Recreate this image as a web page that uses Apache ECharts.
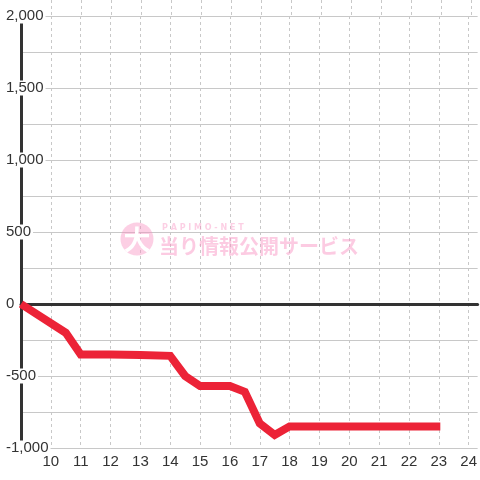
<!DOCTYPE html>
<html>
<head>
<meta charset="utf-8">
<script src="https://cdn.jsdelivr.net/npm/echarts@6/dist/echarts.min.js"></script>
<style>html,body{margin:0;padding:0;background:#fff}#c{width:480px;height:480px}</style>
</head>
<body>
<div id="c"></div>
<script>
const hours = [9, 10.5, 11, 12, 13, 14, 14.5, 15, 16, 16.5, 17, 17.5, 18, 19, 20, 21, 22, 23.05];
const values = [0, -200, -350, -350, -355, -360, -500, -570, -570, -610, -830, -910, -850, -850, -850, -850, -850, -850];
const yTickLabels = [-1000, -500, 0, 500, 1000, 1500, 2000];
const xTickLabels = [10, 11, 12, 13, 14, 15, 16, 17, 18, 19, 20, 21, 22, 23, 24];
const watermarkSmall = 'PAPIMO-NET';
const watermarkBig = '当り情報公開サービス';

const chart = echarts.init(document.getElementById('c'));
const fontFam = '"Liberation Sans", Arial, sans-serif';
const xMin = 9, xMax = 24.3;
chart.setOption({
  animation: false,
  backgroundColor: '#fff',
  grid: [
    {left: 21, right: 0, top: 16, bottom: 32},
    {left: 21, right: 0, top: 0, height: 16}
  ],
  xAxis: [
    {
      type: 'value', gridIndex: 0, min: xMin, max: xMax, interval: 1, position: 'bottom',
      axisLine: {show: false, onZero: false}, axisTick: {show: false},
      axisLabel: {
        color: '#333', fontSize: 15, fontFamily: fontFam, margin: 6,
        showMinLabel: false, showMaxLabel: false,
        formatter: v => xTickLabels.indexOf(v) >= 0 ? String(v) : ''
      },
      splitLine: {show: true, showMinLine: false, showMaxLine: false, lineStyle: {color: '#c8c8c8', type: [3, 3], width: 1}}
    },
    {
      type: 'value', gridIndex: 0, min: xMin, max: xMax, position: 'top',
      axisLine: {show: true, onZero: true, lineStyle: {color: '#333', width: 3}},
      axisTick: {show: false}, axisLabel: {show: false}, splitLine: {show: false}
    },
    {
      type: 'value', gridIndex: 1, min: xMin, max: xMax, interval: 1,
      axisLine: {show: false}, axisTick: {show: false}, axisLabel: {show: false},
      splitLine: {show: true, showMinLine: false, showMaxLine: false, lineStyle: {color: '#c8c8c8', type: [3, 3], width: 1}}
    }
  ],
  yAxis: [
    {
      type: 'value', gridIndex: 0, min: -1000, max: 2000, interval: 250,
      axisLine: {show: true, onZero: false, lineStyle: {color: '#333', width: 3}},
      axisTick: {show: false},
      axisLabel: {
        color: '#333', fontSize: 15, fontFamily: fontFam, align: 'left', margin: 15,
        backgroundColor: '#fff', padding: [0, 2, 0, 0],
        formatter: v => yTickLabels.indexOf(v) >= 0 ? v.toLocaleString('en-US') : ''
      },
      splitLine: {show: true, lineStyle: {color: '#c8c8c8', width: 1}}
    },
    {
      type: 'value', gridIndex: 1, min: 0, max: 1, show: false
    }
  ],
  graphic: [
    {type: 'circle', shape: {cx: 137, cy: 239, r: 16.5}, style: {fill: 'rgba(248,140,190,0.42)'}, z: 1},
    {type: 'text', x: 137, y: 240, style: {text: '大', fill: '#fff', font: 'bold 27px "Noto Sans CJK JP"', align: 'center', verticalAlign: 'middle'}, z: 2},
    {type: 'text', x: 162, y: 228, style: {text: 'P A P I M O - N E T', fill: 'rgba(248,140,190,0.42)', font: 'bold 8px "DejaVu Sans"', align: 'left', verticalAlign: 'middle'}, z: 1},
    {type: 'text', x: 159, y: 246, style: {text: watermarkBig, fill: 'rgba(248,140,190,0.45)', font: 'bold 20px "Noto Sans CJK JP"', align: 'left', verticalAlign: 'middle'}, z: 1}
  ],
  series: [{
    type: 'line', xAxisIndex: 0, yAxisIndex: 0,
    data: hours.map((h, i) => [h, values[i]]),
    showSymbol: false, symbol: 'none',
    lineStyle: {color: '#ec2337', width: 8, join: 'miter'},
    z: 5
  }]
});
</script>
</body>
</html>
